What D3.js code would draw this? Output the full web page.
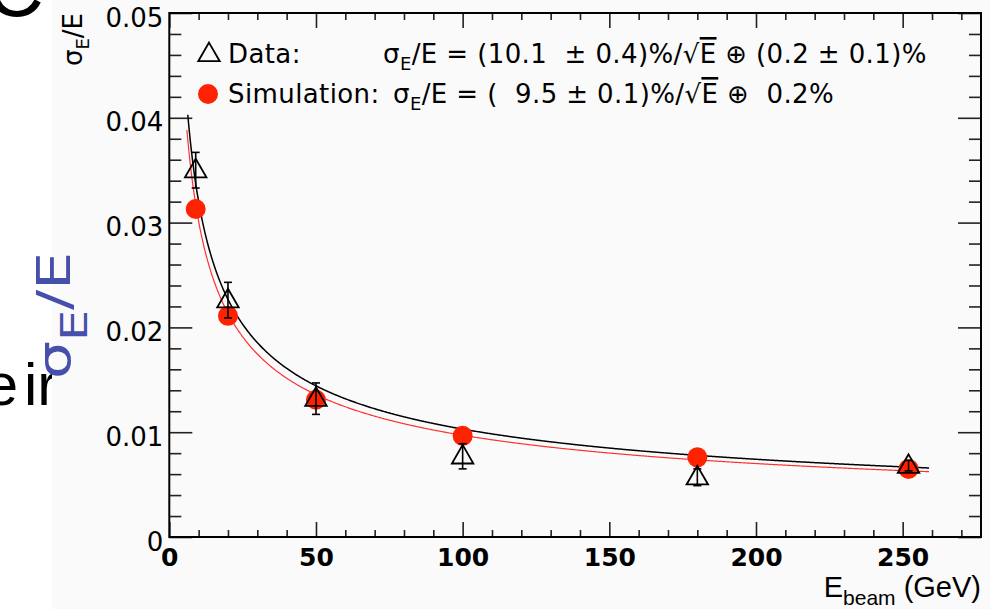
<!DOCTYPE html>
<html><head><meta charset="utf-8">
<script src="https://cdn.jsdelivr.net/npm/d3@7"></script>
<style>
body{margin:0;background:#fff;}
svg{display:block;}
text{font-family:"DejaVu Sans",sans-serif;}
</style>
</head><body><svg id="c" width="990" height="609"></svg>
<script>
// ---- data ----
const energies   = [9, 20, 50, 100, 180, 252];            // E_beam (GeV)
const dataRes    = [0.0350, 0.0226, 0.0132, 0.0077, 0.0057, 0.0068];
const dataErr    = [0.0017, 0.0017, 0.0015, 0.0012, 0.0008, 0.0005];
const simRes     = [0.0313, 0.0211, 0.0131, 0.00965, 0.0076, 0.0065];
// fit parameters quoted in the legend (stochastic term, constant term)
const dataFitParams = [0.101, 0.002];
const simFitParams  = [0.095, 0.002];
const dataFitRange  = [6.3, 259];
const simFitRange   = [6.0, 259];
const xTicks = [0, 50, 100, 150, 200, 250];
const yTicks = [0, 0.01, 0.02, 0.03, 0.04, 0.05];
const yTickLabels = ["0", "0.01", "0.02", "0.03", "0.04", "0.05"];

const svg = d3.select("#c");
const L = 169.3, R = 981, T = 13, B = 537;
const x = d3.scaleLinear().domain([0, 276.7]).range([L, R]);
const y = d3.scaleLinear().domain([0, 0.05]).range([B, T]);

// background slide fragments
svg.append("rect").attr("width", 990).attr("height", 609).attr("fill", "#fff");
svg.append("text").attr("x", -14).attr("y", 16).style("font-family", "'Liberation Sans',sans-serif")
  .attr("font-size", 80).text("C");
svg.append("text").attr("x", 18).attr("y", 405).attr("text-anchor", "end")
  .style("font-family", "'Liberation Sans',sans-serif").attr("font-size", 60).text("e");
svg.append("text").attr("x", 24).attr("y", 405)
  .style("font-family", "'Liberation Sans',sans-serif").attr("font-size", 60).text("ir");
svg.append("rect").attr("x", 52).attr("y", 0).attr("width", 938).attr("height", 609).attr("fill", "#fafafa");

// blue hand-written label
const blue = svg.append("text")
  .attr("transform", "translate(70,379) rotate(-90) scale(1.3,1)")
  .attr("fill", "#4650aa").attr("font-size", 46);
blue.append("tspan").text("σ");
blue.append("tspan").attr("font-size", 38).attr("dy", 17).text("E");
blue.append("tspan").attr("dy", -17).text("/E");

// ---- axes ----
function styleAxis(g) {
  g.select(".domain").remove();
  g.selectAll(".tick line").attr("stroke", "#222").attr("stroke-width", 1.6);
}
const yMinor = d3.range(0, 0.0501, 0.002).filter(v => Math.abs(Math.round(v * 100) - v * 100) > 1e-6);
const xMinor = d3.range(0, 277, 10).filter(v => v % 50 !== 0);

const yAx = svg.append("g").attr("transform", `translate(${L},0)`)
  .call(d3.axisLeft(y).tickValues(yTicks).tickSize(-23).tickPadding(6)
    .tickFormat((d, i) => yTickLabels[i]));
styleAxis(yAx);
yAx.selectAll("text").attr("font-size", 26).attr("fill", "#000").attr("dy", "0.5em")
  .style("font-family", "'DejaVu Sans',sans-serif");
svg.append("g").attr("transform", `translate(${L},0)`)
  .call(d3.axisLeft(y).tickValues(yMinor).tickSize(-12).tickFormat("")).call(styleAxis);
svg.append("g").attr("transform", `translate(${R},0)`)
  .call(d3.axisRight(y).tickValues(yTicks).tickSize(-23).tickFormat("")).call(styleAxis);
svg.append("g").attr("transform", `translate(${R},0)`)
  .call(d3.axisRight(y).tickValues(yMinor).tickSize(-12).tickFormat("")).call(styleAxis);

const xAx = svg.append("g").attr("transform", `translate(0,${B})`)
  .call(d3.axisBottom(x).tickValues(xTicks).tickSize(-15).tickPadding(11).tickFormat(d3.format("d")));
styleAxis(xAx);
xAx.selectAll("text").attr("font-size", 25).attr("font-weight", "bold").attr("fill", "#000")
  .style("font-family", "'DejaVu Sans',sans-serif");
svg.append("g").attr("transform", `translate(0,${B})`)
  .call(d3.axisBottom(x).tickValues(xMinor).tickSize(-7).tickFormat("")).call(styleAxis);
svg.append("g").attr("transform", `translate(0,${T})`)
  .call(d3.axisTop(x).tickValues(xTicks).tickSize(-15).tickFormat("")).call(styleAxis);
svg.append("g").attr("transform", `translate(0,${T})`)
  .call(d3.axisTop(x).tickValues(xMinor).tickSize(-7).tickFormat("")).call(styleAxis);

svg.append("rect").attr("x", L).attr("y", T).attr("width", R - L).attr("height", B - T)
  .attr("fill", "none").attr("stroke", "#000").attr("stroke-width", 2);

// axis titles
const yt = svg.append("text").attr("transform", `translate(82,${T}) rotate(-90)`)
  .attr("text-anchor", "end").attr("font-size", 26);
yt.append("tspan").text("σ");
yt.append("tspan").attr("font-size", 18).attr("dy", 7).text("E");
yt.append("tspan").attr("dy", -7).text("/E");

const xt = svg.append("text").attr("x", R).attr("y", 597).attr("text-anchor", "end").attr("font-size", 29)
  .style("font-family", "'Liberation Sans',sans-serif");
xt.append("tspan").text("E");
xt.append("tspan").attr("font-size", 21).attr("dy", 8).text("beam");
xt.append("tspan").attr("dy", -8).text(" (GeV)");

// ---- fit curves ----
function fitFn(p) { return E => Math.sqrt((p[0] / Math.sqrt(E)) ** 2 + p[1] ** 2); }
const line = d3.line().x(d => x(d[0])).y(d => y(d[1]));
function curve(p, rng) {
  const f = fitFn(p);
  const pts = d3.range(rng[0], rng[1], 0.25).concat([rng[1]]).map(E => [E, f(E)]);
  return line(pts);
}
svg.append("path").attr("d", curve(simFitParams, simFitRange)).attr("fill", "none")
  .attr("stroke", "#ff3030").attr("stroke-width", 1.2);
svg.append("path").attr("d", curve(dataFitParams, dataFitRange)).attr("fill", "none")
  .attr("stroke", "#000").attr("stroke-width", 1.5);

// ---- markers ----
const RED = "#ff2200";
svg.append("g").selectAll("circle").data(energies).join("circle")
  .attr("cx", d => x(d)).attr("cy", (d, i) => y(simRes[i])).attr("r", 10).attr("fill", RED);

const tri = d3.symbol().type(d3.symbolTriangle).size(200);
const eb = svg.append("g").attr("stroke", "#000").attr("stroke-width", 1.6).attr("fill", "none");
energies.forEach((E, i) => {
  const cx = x(E), top = y(dataRes[i] + dataErr[i]), bot = y(dataRes[i] - dataErr[i]);
  eb.append("line").attr("x1", cx).attr("x2", cx).attr("y1", top).attr("y2", bot);
  eb.append("line").attr("x1", cx - 4).attr("x2", cx + 4).attr("y1", top).attr("y2", top);
  eb.append("line").attr("x1", cx - 4).attr("x2", cx + 4).attr("y1", bot).attr("y2", bot);
});
svg.append("g").selectAll("path").data(energies).join("path")
  .attr("d", tri).attr("transform", (d, i) => `translate(${x(d)},${y(dataRes[i]) + 1})`)
  .attr("fill", "none").attr("stroke", "#000").attr("stroke-width", 1.8);

// ---- legend ----
svg.append("path").attr("d", tri).attr("transform", "translate(209,55)")
  .attr("fill", "none").attr("stroke", "#000").attr("stroke-width", 1.8);
svg.append("circle").attr("cx", 208).attr("cy", 94).attr("r", 10).attr("fill", RED);
svg.append("text").attr("x", 228).attr("y", 63).attr("font-size", 26).attr("letter-spacing", 0.4).text("Data:");
svg.append("text").attr("x", 228).attr("y", 103).attr("font-size", 26).attr("letter-spacing", 0.4).text("Simulation:");

function formula(xp, yp, pre, post) {
  const t = svg.append("text").attr("x", xp).attr("y", yp).attr("font-size", 26)
    .attr("letter-spacing", 0.4).style("white-space", "pre");
  t.append("tspan").text("σ");
  t.append("tspan").attr("font-size", 18).attr("dy", 7).text("E");
  t.append("tspan").attr("dy", -7).text(pre + "%/√");
  t.append("tspan").style("text-decoration", "overline").text("E");
  t.append("tspan").text(post);
}
formula(383, 63, "/E = (10.1  ± 0.4)", " ⊕ (0.2 ± 0.1)%");
formula(393, 103, "/E = (  9.5 ± 0.1)", " ⊕  0.2%");
</script>
</body></html>
